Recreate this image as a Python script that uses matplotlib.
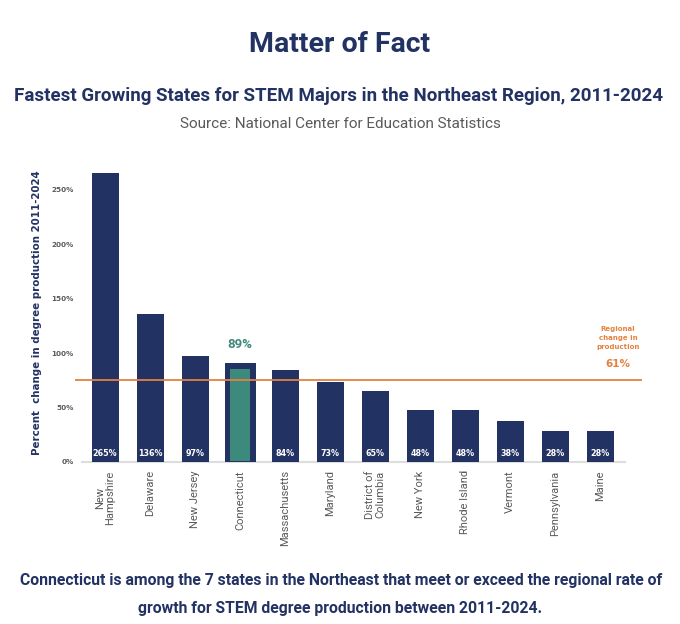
import matplotlib
matplotlib.use('agg')
import matplotlib.pyplot as plt

states = ["New\nHampshire", "Delaware", "New Jersey", "Connecticut", "Massachusetts",
          "Maryland", "District of\nColumbia", "New York", "Rhode Island", "Vermont",
          "Pennsylvania", "Maine"]
growth = [265, 136, 97, 89, 84, 73, 65, 48, 48, 38, 28, 28]
yticks = [0, 50, 100, 150, 200, 250]
highlight = "Connecticut"
regional_label = 61     # value printed on the chart
regional_marker = 75    # where the line is actually drawn in the source

NAVY = "#223263"
TEAL = "#3d897b"
ORANGE = "#e4813f"
GRAY = "#5a5a5a"

W, H = 680, 624
fig = plt.figure(figsize=(W / 100, H / 100), dpi=100)
fig.patch.set_facecolor("white")

def ftext(x, y, s, **kw):
    fig.text(x / W, 1 - y / H, s, ha="center", va="center", family="Roboto", **kw)

ftext(340, 44, "Matter of Fact", fontsize=20.5, fontweight="bold", color=NAVY)
ftext(339, 96, "Fastest Growing States for STEM Majors in the Northeast Region, 2011-2024",
      fontsize=13.5, fontweight="bold", color=NAVY)
ftext(340, 124, "Source: National Center for Education Statistics", fontsize=11, color=GRAY)
ftext(341, 580, "Connecticut is among the 7 states in the Northeast that meet or exceed the regional rate of",
      fontsize=11.3, fontweight="bold", color=NAVY)
ftext(340, 609, "growth for STEM degree production between 2011-2024.",
      fontsize=11.3, fontweight="bold", color=NAVY)

left, right, top, bottom = 75, 642, 170, 462
ax = fig.add_axes([left / W, 1 - bottom / H, (right - left) / W, (bottom - top) / H])
ax.set_xlim(-0.67, 11.93)
ax.set_ylim(0, 268)
for s in ax.spines.values():
    s.set_visible(False)

xs = list(range(len(states)))
for i, (st, v) in enumerate(zip(states, growth)):
    if st == highlight:
        ax.bar(i, v + 1.5, width=0.69, color=NAVY, zorder=2)
        ax.bar(i, v - 4.5, bottom=1, width=0.44, color=TEAL, zorder=3)
        ax.text(i, v + 19, f"{v}%", ha="center", va="center", color=TEAL,
                fontsize=9.5, fontweight="bold", family="Roboto")
    else:
        ax.bar(i, v, width=0.6, color=NAVY, zorder=2)
        ax.text(i, 8, f"{v}%", ha="center", va="center", color="white",
                fontsize=5.8, fontweight="bold")

ax.plot([-0.51, 11.56], [0, 0], color="#dddddd", lw=1.5, zorder=1, clip_on=False)
ax.axhline(regional_marker, color=ORANGE, lw=1.3, zorder=4)
ax.text(11.4, 114, "Regional\nchange in\nproduction", ha="center", va="center",
        color=ORANGE, fontsize=5, fontweight="bold", linespacing=1.6)
ax.text(11.4, 90, f"{regional_label}%", ha="center", va="center",
        color=ORANGE, fontsize=7.5, fontweight="bold")

ax.set_yticks(yticks)
ax.set_yticklabels([f"{t}%" for t in yticks], fontsize=5.2, fontweight="bold", color=GRAY)
ax.set_xticks(xs)
ax.set_xticklabels(states, rotation=90, fontsize=8, color=GRAY, family="Roboto",
                   va="top", ha="center", linespacing=1.1)
ax.tick_params(axis="both", length=0)
ax.tick_params(axis="y", pad=1)
ax.tick_params(axis="x", pad=6)

fig.text(37 / W, 1 - 313 / H, "Percent  change in degree production 2011-2024",
         rotation=90, ha="center", va="center", fontsize=7.4, fontweight="bold", color=NAVY)

fig.savefig("out.png", dpi=100)
